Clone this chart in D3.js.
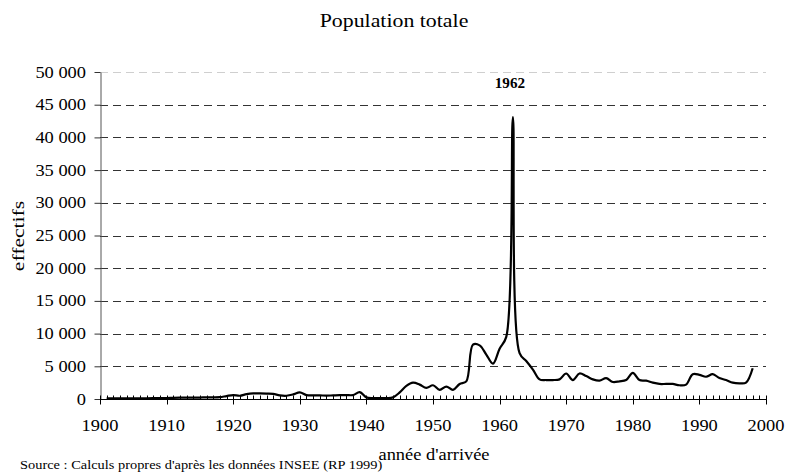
<!DOCTYPE html>
<html>
<head>
<meta charset="utf-8">
<script src="https://cdn.jsdelivr.net/npm/d3@7"></script>
<style>
  body { margin: 0; background: #fff; }
  text { font-family: "Liberation Serif", "Times New Roman", serif; fill: #000; }
</style>
</head>
<body>
<div id="main"></div>
<script>
// années 1901 -> 1998
const years = d3.range(1901, 1999);
const effectifs = [
  100, 100, 100, 100, 100, 100, 100, 120, 150, 150,      // 1901-1910
  180, 200, 200, 200, 220, 250, 250, 280, 450, 600,      // 1911-1920
  500, 750, 870, 850, 820, 780, 550, 500, 700, 1020,     // 1921-1930
  600, 550, 550, 520, 550, 580, 600, 600, 1050, 250,     // 1931-1940
  150, 150, 150, 250, 1000, 2000, 2500, 2200, 1700, 2100, // 1941-1950
  1400, 1900, 1400, 2300, 2700, 8300, 8200, 6800, 5400, 7700, // 1951-1960
  9500, 43100, 7000, 5800, 4500, 3000, 2900, 2900, 3000, 3900, // 1961-1970
  2900, 3900, 3500, 3000, 2800, 3200, 2600, 2700, 2900, 4000, // 1971-1980
  2900, 2800, 2500, 2300, 2300, 2300, 2100, 2200, 3800, 3700, // 1981-1990
  3400, 3800, 3200, 2900, 2500, 2400, 2500, 4700             // 1991-1998
];
const yTicks = d3.range(0, 50001, 5000);
const xTicks = d3.range(1900, 2001, 10);
const peakYear = 1962;

const ctx = { w: 785, h: 472, left: 100, right: 766, top: 72, bottom: 399, SX: 1.15 };

// texte un peu étiré horizontalement comme sur l'original
function stretchedText(g, x, y, str, size, anchor, sx) {
  return g.append("text")
    .attr("transform", `translate(${x},${y}) scale(${sx || ctx.SX},1)`)
    .attr("text-anchor", anchor || "middle")
    .style("font-size", size + "px")
    .text(str);
}

function createViz() {
  const svg = d3.select("#main").append("svg")
    .attr("width", ctx.w).attr("height", ctx.h);

  const x = d3.scaleLinear().domain([1900, 2000]).range([ctx.left, ctx.right]);
  const y = d3.scaleLinear().domain([0, 50000]).range([ctx.bottom, ctx.top]);
  const fmt = v => d3.format(",")(v).replace(/,/g, " ");

  // grille
  svg.append("g").selectAll("line")
    .data(yTicks.filter(d => d > 0))
    .enter().append("line")
    .attr("x1", ctx.left).attr("x2", ctx.right)
    .attr("y1", d => Math.round(y(d)) + 0.5).attr("y2", d => Math.round(y(d)) + 0.5)
    .attr("stroke", d => d == 50000 ? "#cfcfcf" : "#333")
    .attr("stroke-dasharray", "8,5");

  // axe y
  const yAxis = svg.append("g").attr("transform", `translate(${ctx.left + 0.5},0)`)
    .call(d3.axisLeft(y).tickValues(yTicks).tickFormat("").tickSize(6).tickSizeOuter(0));
  yAxis.select(".domain").attr("stroke", "#555");
  yAxis.selectAll(".tick line").attr("stroke", "#333");
  const yLab = svg.append("g");
  yTicks.forEach(d => stretchedText(yLab, 86, y(d) + 5.5, fmt(d), 16, "end"));

  // axe x : petits traits par année, grands par décennie
  const xg = svg.append("g").attr("transform", `translate(0,${ctx.bottom + 0.5})`);
  xg.append("line").attr("x1", ctx.left).attr("x2", ctx.right).attr("stroke", "#000");
  xg.selectAll("line.minor")
    .data(d3.range(1900, 2001).filter(d => d % 10 != 0))
    .enter().append("line").attr("class", "minor")
    .attr("x1", d => Math.round(x(d)) + 0.5).attr("x2", d => Math.round(x(d)) + 0.5)
    .attr("y1", 0).attr("y2", -4).attr("stroke", "#000");
  xg.selectAll("line.major")
    .data(xTicks)
    .enter().append("line").attr("class", "major")
    .attr("x1", d => Math.round(x(d)) + 0.5).attr("x2", d => Math.round(x(d)) + 0.5)
    .attr("y1", -4).attr("y2", 5).attr("stroke", "#000");
  xTicks.forEach(d => stretchedText(xg, x(d), 31, d, 16, "middle"));

  // courbe
  const line = d3.line()
    .x((d, i) => x(years[i]))
    .y(d => y(d))
    .curve(d3.curveCatmullRom.alpha(0.5));
  svg.append("path")
    .datum(effectifs)
    .attr("fill", "none")
    .attr("stroke", "#000")
    .attr("stroke-width", 2.2)
    .attr("stroke-linejoin", "round")
    .attr("d", line);

  // étiquette du pic
  stretchedText(svg, x(peakYear) - 3, 88, peakYear, 14, "middle", 1.08)
    .style("font-weight", "bold");

  // titres
  stretchedText(svg, 394, 27, "Population totale", 19, "middle");
  stretchedText(svg, 434, 460, "année d'arrivée", 16, "middle");
  svg.append("text")
    .attr("transform", "translate(24,236) rotate(-90) scale(1.27,1)")
    .attr("text-anchor", "middle")
    .style("font-size", "17px").text("effectifs");
  stretchedText(svg, 20, 469, "Source : Calculs propres d'après les données INSEE (RP 1999)", 12, "start", 1.2);
}

createViz();
</script>
</body>
</html>
